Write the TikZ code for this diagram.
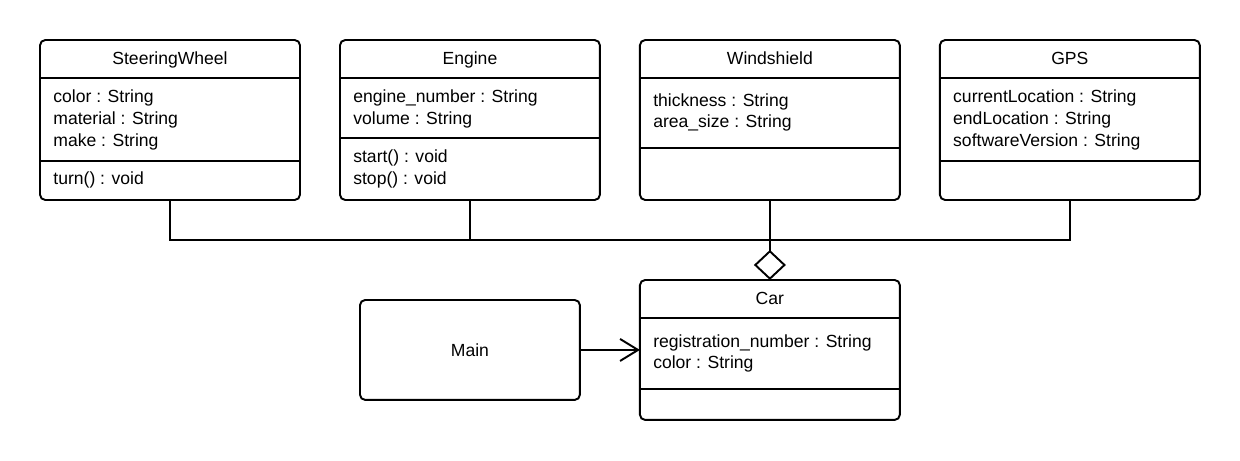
\documentclass[tikz,border=0pt]{standalone}
\usepackage{fontspec}
\setmainfont{Liberation Sans}
\usetikzlibrary{positioning, calc, arrows.meta}

\begin{document}
\begin{tikzpicture}[
    x=0.02cm, y=-0.02cm,
    font=\fontsize{10}{12.3}\selectfont,
    classbox/.style={rectangle, draw, rounded corners=3pt, line width=1.1pt, minimum width=5.2cm, minimum height=3.2cm, inner sep=0pt, outer sep=0pt},
    carbox/.style={classbox, minimum height=2.8cm},
    mainbox/.style={classbox, minimum width=4.4cm, minimum height=2cm},
    classname/.style={anchor=base, inner sep=0pt},
    members/.style={anchor=base west, align=left, inner sep=0pt},
    divider/.style={line width=1.1pt},
    link/.style={line width=1.1pt},
    node distance=0.8cm
  ]
    \useasboundingbox (0,0) rectangle (1240,460);

    % Component classes
    \node[classbox] (sw) at (170,120) {};
    \node[classbox, right=of sw] (eng) {};
    \node[classbox, right=of eng] (ws) {};
    \node[classbox, right=of ws] (gps) {};

    % Car and Main
    \node[carbox, below=1.6cm of ws] (car) {};
    \node[mainbox, left=1.2cm of car] (main) {Main};

    % SteeringWheel
    \node[classname] (sw-name) at ($(sw.north)+(0,24.5)$) {SteeringWheel};
    \draw[divider] ($(sw.north west)+(0,38)$) -- ($(sw.north east)+(0,38)$);
    \node[members] (sw-attr) at ($(sw.north west)+(13,106)$) {color : String\\material : String\\make : String};
    \draw[divider] ($(sw.north west)+(0,121)$) -- ($(sw.north east)+(0,121)$);
    \node[members] (sw-ops) at ($(sw.north west)+(13,144)$) {turn() : void};

    % Engine
    \node[classname] (eng-name) at ($(eng.north)+(0,24.5)$) {Engine};
    \draw[divider] ($(eng.north west)+(0,38)$) -- ($(eng.north east)+(0,38)$);
    \node[members] (eng-attr) at ($(eng.north west)+(13,84)$) {engine\_number : String\\volume : String};
    \draw[divider] ($(eng.north west)+(0,98)$) -- ($(eng.north east)+(0,98)$);
    \node[members] (eng-ops) at ($(eng.north west)+(13,144.4)$) {start() : void\\stop() : void};

    % Windshield
    \node[classname] (ws-name) at ($(ws.north)+(0,24.5)$) {Windshield};
    \draw[divider] ($(ws.north west)+(0,38)$) -- ($(ws.north east)+(0,38)$);
    \node[members] (ws-attr) at ($(ws.north west)+(13,87.7)$) {thickness : String\\area\_size : String};
    \draw[divider] ($(ws.north west)+(0,108)$) -- ($(ws.north east)+(0,108)$);

    % GPS
    \node[classname] (gps-name) at ($(gps.north)+(0,24.5)$) {GPS};
    \draw[divider] ($(gps.north west)+(0,38)$) -- ($(gps.north east)+(0,38)$);
    \node[members] (gps-attr) at ($(gps.north west)+(13,106)$) {currentLocation : String\\endLocation : String\\softwareVersion : String};
    \draw[divider] ($(gps.north west)+(0,121)$) -- ($(gps.north east)+(0,121)$);

    % Car
    \node[classname] (car-name) at ($(car.north)+(0,25)$) {Car};
    \draw[divider] ($(car.north west)+(0,38)$) -- ($(car.north east)+(0,38)$);
    \node[members] (car-attr) at ($(car.north west)+(13,89)$) {registration\_number : String\\color : String};
    \draw[divider] ($(car.north west)+(0,109)$) -- ($(car.north east)+(0,109)$);

    % Aggregation
    \coordinate (hub) at ($(ws.south)!0.5!(car.north)$);
    \draw[link] (sw.south) |- (hub);
    \draw[link] (eng.south) |- (hub);
    \draw[link] (gps.south) |- (hub);
    \draw[link, -{Diamond[open, length=0.6cm, width=0.64cm]}] (ws.south) -- (car.north);

    % Association
    \draw[link, -{Straight Barb[length=0.36cm, width=0.44cm]}] (main) -- (car);
\end{tikzpicture}
\end{document}
